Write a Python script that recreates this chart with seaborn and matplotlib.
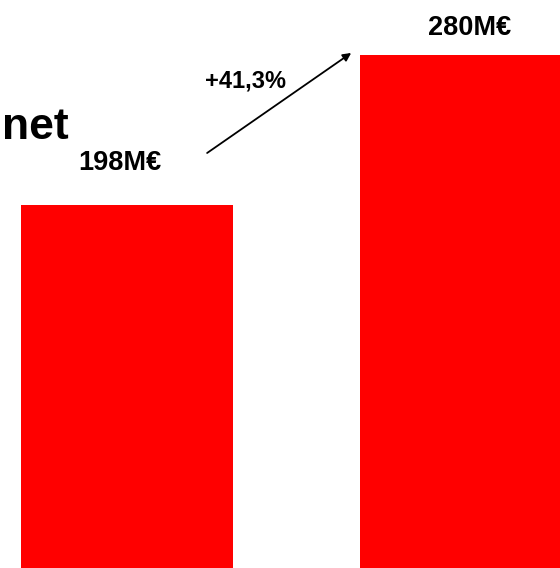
import matplotlib
matplotlib.use("Agg")
import matplotlib.pyplot as plt
import seaborn as sns
import pandas as pd

categories = ["Année N-1", "Année N"]
values = [198, 280]
value_labels = ["198M€", "280M€"]
growth_label = "+41,3%"
title_fragment = "net"

sns.set_style("white")
plt.rcParams["font.family"] = ["Liberation Sans", "DejaVu Sans"]

df = pd.DataFrame({"cat": categories, "val": values})

fig = plt.figure(figsize=(5.6, 5.68), dpi=100)
ax = fig.add_axes([0, 0, 1, 1])
sns.barplot(data=df, x="cat", y="val", color="#ff0000", saturation=1,
            width=0.625, ax=ax, edgecolor="none")

ax.set_xlim(-0.375, 1.277)
ax.set_ylim(0, 310)
ax.axis("off")

# value labels
ax.text(-0.022, 221.0, value_labels[0], ha="center", va="center",
        fontsize=19.5, fontweight="bold", color="black")
ax.text(1.010, 294.7, value_labels[1], ha="center", va="center",
        fontsize=19.5, fontweight="bold", color="black")

# growth arrow and label
ax.annotate("", xy=(0.661, 281.1), xytext=(0.236, 226.5),
            arrowprops=dict(arrowstyle="-|>", color="black", lw=1.3,
                            mutation_scale=12, shrinkA=0, shrinkB=0))
ax.text(0.348, 265.8, growth_label, ha="center", va="center",
        fontsize=17, fontweight="bold", color="black")

# cropped title fragment
ax.text(-0.174, 234.1, title_fragment, ha="right", va="baseline",
        fontsize=32, fontweight="bold", color="black")

fig.savefig("out.png", dpi=100)
